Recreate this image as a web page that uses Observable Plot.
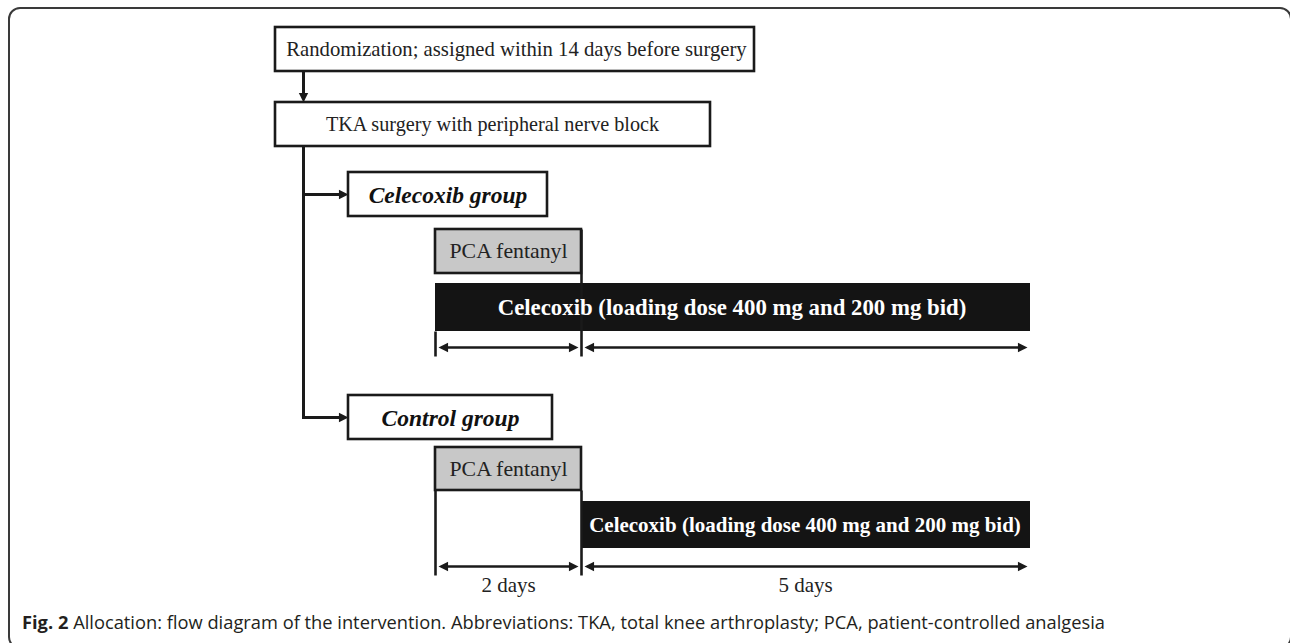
<!DOCTYPE html>
<html>
<head>
<meta charset="utf-8">
<script src="https://cdn.jsdelivr.net/npm/d3@7"></script>
<script src="https://cdn.jsdelivr.net/npm/@observablehq/plot@0.6"></script>
<style>
  html, body { margin: 0; padding: 0; background: #fff; overflow: hidden; }
  #wrap { position: relative; width: 1290px; height: 643px; overflow: hidden; }
  #chart { position: absolute; left: 0; top: 0; }
  #frame { position: absolute; left: 8px; top: 7px; width: 1284px; height: 642px;
           border: 2px solid #3a3a3a; border-radius: 12px; box-sizing: border-box; pointer-events: none; }
  #cap { position: absolute; left: 22px; top: 610px; font-family: "Open Sans", sans-serif;
         font-size: 18px; color: #231f20; white-space: nowrap; transform-origin: 0 50%; }
  #cap b { font-weight: 700; }
</style>
</head>
<body>
<div id="wrap">
  <div id="chart"></div>
  <div id="frame"></div>
  <div id="cap"><b>Fig. 2</b> Allocation: flow diagram of the intervention. Abbreviations: TKA, total knee arthroplasty; PCA, patient-controlled analgesia</div>
</div>
<script>
// ---- content ----
const stepLabels = ["Randomization; assigned within 14 days before surgery", "TKA surgery with peripheral nerve block"];
const groupLabels = ["Celecoxib group", "Control group"];
const pcaLabel = "PCA fentanyl";
const drugLabel = "Celecoxib (loading dose 400 mg and 200 mg bid)";
const durationLabels = ["2 days", "5 days"];

// ---- layout (pixel coordinate system of the diagram) ----
const L = {
  steps: [{x1: 275, x2: 754, y1: 27, y2: 71, size: 20.7}, {x1: 275, x2: 710, y1: 102, y2: 146, size: 20.2}],
  stepTextX: [516, 492],
  trunkX: 303,
  groups: [{x1: 348, x2: 547, y1: 172, y2: 216}, {x1: 348, x2: 552, y1: 395, y2: 439}],
  tlLeft: 435, tlMid: 581, tlRight: 1030,
  rows: [
    {pcaTop: 229, pcaBot: 273, barTop: 283, barBot: 331, barX1: 435, arrowY: 347, tickBot: 356, drugSize: 22.8},
    {pcaTop: 447, pcaBot: 490, barTop: 501, barBot: 548, barX1: 581, arrowY: 566, tickBot: 575, drugSize: 21}
  ],
  daysX: [508, 805],
  daysY: 585
};

// ---- build mark data ----
const boxes = [
  ...L.steps.map((b) => ({...b, fill: "white"})),
  ...L.groups.map((b) => ({...b, fill: "white"})),
  ...L.rows.map((r) => ({x1: L.tlLeft, x2: L.tlMid, y1: r.pcaTop, y2: r.pcaBot, fill: "#c8c8c8"}))
];
const bars = L.rows.map((r) => ({x1: r.barX1, x2: L.tlRight, y1: r.barTop, y2: r.barBot}));

const stepText = stepLabels.map((t, i) => ({t, x: L.stepTextX[i], y: (L.steps[i].y1 + L.steps[i].y2) / 2}));
const groupText = groupLabels.map((t, i) => ({t, x: (L.groups[i].x1 + L.groups[i].x2) / 2, y: (L.groups[i].y1 + L.groups[i].y2) / 2 + 1}));
const pcaText = L.rows.map((r) => ({t: pcaLabel, x: (L.tlLeft + L.tlMid) / 2, y: (r.pcaTop + r.pcaBot) / 2}));
const drugText = L.rows.map((r) => ({t: drugLabel, x: (r.barX1 + L.tlRight) / 2 - 1, y: (r.barTop + r.barBot) / 2}));
const daysText = durationLabels.map((t, i) => ({t, x: L.daysX[i], y: L.daysY}));

const thick = [
  {x1: L.trunkX, y1: L.steps[0].y2, x2: L.trunkX, y2: L.steps[1].y1 - 6},
  {x1: L.trunkX, y1: L.steps[1].y2, x2: L.trunkX, y2: (L.groups[1].y1 + L.groups[1].y2) / 2 + 1.5},
  ...L.groups.map((g) => ({x1: L.trunkX, y1: (g.y1 + g.y2) / 2, x2: g.x1 - 6, y2: (g.y1 + g.y2) / 2}))
];
const ticks = [
  {x1: L.tlLeft, y1: L.rows[0].barBot, x2: L.tlLeft, y2: L.rows[0].tickBot},
  {x1: L.tlMid, y1: L.rows[0].pcaTop, x2: L.tlMid, y2: L.rows[0].tickBot},
  {x1: L.tlLeft, y1: L.rows[1].pcaBot, x2: L.tlLeft, y2: L.rows[1].tickBot},
  {x1: L.tlMid, y1: L.rows[1].pcaBot, x2: L.tlMid, y2: L.rows[1].tickBot}
];
const spans = L.rows.flatMap((r) => [
  {x1: L.tlLeft + 3, x2: L.tlMid - 3, y: r.arrowY},
  {x1: L.tlMid + 3, x2: L.tlRight - 3, y: r.arrowY}
]);
const spanLines = spans.map((s) => ({x1: s.x1 + 4, x2: s.x2 - 4, y1: s.y, y2: s.y}));

const heads = {
  right: [...L.groups.map((g) => ({x: g.x1, y: (g.y1 + g.y2) / 2})), ...spans.map((s) => ({x: s.x2, y: s.y}))],
  left: spans.map((s) => ({x: s.x1, y: s.y})),
  down: [{x: L.trunkX, y: L.steps[1].y1}]
};
const tri = (dx, dy) => ({
  draw(ctx, size) {
    const s = Math.sqrt(size), len = s * 1.35, w = s * 0.66;
    ctx.moveTo(0, 0);
    ctx.lineTo(-dx * len - dy * w, -dy * len - dx * w);
    ctx.lineTo(-dx * len + dy * w, -dy * len + dx * w);
    ctx.closePath();
  }
});

const serif = "'Liberation Serif', 'Times New Roman', serif";
const ink = "#1a1a1a";

const chart = Plot.plot({
  width: 1290,
  height: 600,
  margin: 0,
  x: {domain: [0, 1290], range: [0, 1290], axis: null},
  y: {domain: [0, 600], range: [0, 600], axis: null},
  style: {background: "transparent"},
  marks: [
    Plot.rect(bars, {x1: "x1", x2: "x2", y1: "y1", y2: "y2", fill: "#141414"}),
    Plot.rect(boxes, {x1: "x1", x2: "x2", y1: "y1", y2: "y2", fill: "fill", stroke: ink, strokeWidth: 2.6}),
    Plot.link(thick, {x1: "x1", y1: "y1", x2: "x2", y2: "y2", stroke: ink, strokeWidth: 3}),
    Plot.link(ticks, {x1: "x1", y1: "y1", x2: "x2", y2: "y2", stroke: ink, strokeWidth: 2.6}),
    Plot.link(spanLines, {x1: "x1", y1: "y1", x2: "x2", y2: "y2", stroke: ink, strokeWidth: 2.6}),
    Plot.dot(heads.right, {x: "x", y: "y", r: 4, symbol: tri(1, 0), fill: ink, stroke: "none"}),
    Plot.dot(heads.left, {x: "x", y: "y", r: 4, symbol: tri(-1, 0), fill: ink, stroke: "none"}),
    Plot.dot(heads.down, {x: "x", y: "y", r: 4, symbol: tri(0, 1), fill: ink, stroke: "none"}),
    Plot.text(stepText.slice(0, 1), {x: "x", y: "y", text: "t", fontFamily: serif, fontSize: L.steps[0].size, fill: "#222"}),
    Plot.text(stepText.slice(1), {x: "x", y: "y", text: "t", fontFamily: serif, fontSize: L.steps[1].size, fill: "#222"}),
    Plot.text(groupText, {x: "x", y: "y", text: "t", fontFamily: serif, fontSize: 23.5, fontWeight: "bold", fontStyle: "italic", fill: "#111"}),
    Plot.text(pcaText, {x: "x", y: "y", text: "t", fontFamily: serif, fontSize: 21.8, fill: "#222"}),
    Plot.text(drugText.slice(0, 1), {x: "x", y: "y", text: "t", fontFamily: serif, fontSize: L.rows[0].drugSize, fontWeight: "bold", fill: "white"}),
    Plot.text(drugText.slice(1), {x: "x", y: "y", text: "t", fontFamily: serif, fontSize: L.rows[1].drugSize, fontWeight: "bold", fill: "white"}),
    Plot.text(daysText, {x: "x", y: "y", text: "t", fontFamily: serif, fontSize: 21, fill: "#222"})
  ]
});
document.getElementById("chart").appendChild(chart);

// fit caption to the reference width
const cap = document.getElementById("cap");
const w = cap.getBoundingClientRect().width;
cap.style.transform = `scaleX(${1083 / w})`;
</script>
</body>
</html>
